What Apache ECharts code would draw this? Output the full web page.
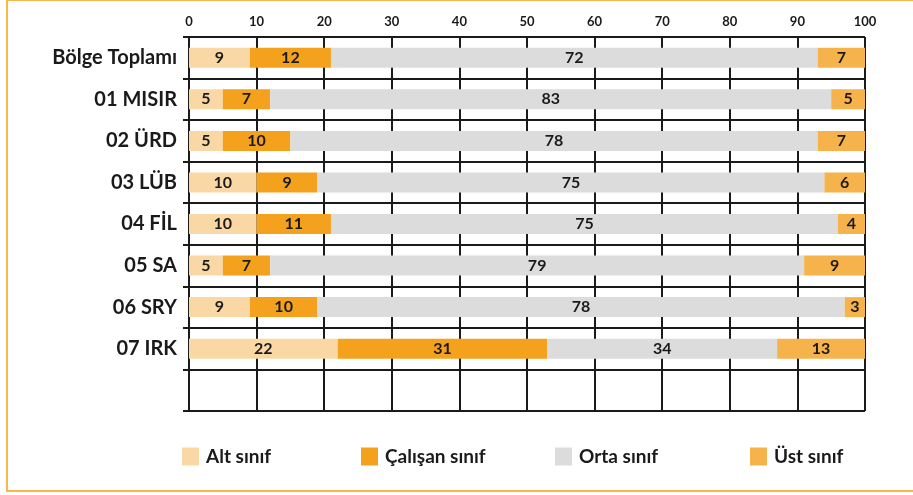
<!DOCTYPE html>
<html>
<head>
<meta charset="utf-8">
<script src="https://cdn.jsdelivr.net/npm/echarts@6/dist/echarts.min.js"></script>
<style>
  html, body { margin: 0; padding: 0; background: #fff; }
  #chart { width: 913px; height: 495px; }
</style>
</head>
<body>
<div id="chart"></div>
<script>
// ülkeler (son satır boş bırakılmış)
const categories = ['Bölge Toplamı', '01 MISIR', '02 ÜRD', '03 LÜB', '04 FİL', '05 SA', '06 SRY', '07 IRK', ''];
const altSinif = [9, 5, 5, 10, 10, 5, 9, 22, null];
const calisanSinif = [12, 7, 10, 9, 11, 7, 10, 31, null];
const ortaSinif = [72, 83, 78, 75, 75, 79, 78, 34, null];
const ustSinif = [7, 5, 7, 6, 4, 9, 3, 13, null];
const xTicks = [0, 10, 20, 30, 40, 50, 60, 70, 80, 90, 100];

const font = 'Lato, "Open Sans", sans-serif';
const ink = '#1a1a1a';

const chart = echarts.init(document.getElementById('chart'));

function bar(name, data, color) {
  return {
    name: name,
    type: 'bar',
    stack: 'total',
    barWidth: 20,
    data: data,
    itemStyle: { color: color },
    label: {
      show: true,
      position: 'inside',
      color: ink,
      fontFamily: font,
      fontWeight: 'bold',
      fontSize: 16
    },
    animation: false
  };
}

const legendLefts = [182, 361, 555, 750];
const names = ['Alt sınıf', 'Çalışan sınıf', 'Orta sınıf', 'Üst sınıf'];

chart.setOption({
  backgroundColor: '#fff',
  grid: { left: 189, right: 48, top: 37, bottom: 84 },
  graphic: [{
    type: 'rect',
    shape: { x: 7, y: 0, width: 1000, height: 491 },
    style: { fill: 'none', stroke: '#f7b84b', lineWidth: 2 },
    silent: true
  }],
  legend: names.map((n, i) => ({
    data: [n],
    left: legendLefts[i],
    top: 447,
    padding: 0,
    icon: 'rect',
    itemWidth: 17,
    itemHeight: 18,
    itemGap: 0,
    selectedMode: false,
    textStyle: { color: ink, fontFamily: font, fontWeight: 'bold', fontSize: 19, padding: [0, 0, 0, 2] }
  })),
  xAxis: {
    type: 'value',
    position: 'top',
    min: 0,
    max: 100,
    interval: 10,
    axisLine: { show: false },
    axisTick: { show: false },
    axisLabel: {
      margin: 9,
      color: ink,
      fontFamily: font,
      fontWeight: 'bold',
      fontSize: 13,
      formatter: v => (xTicks.indexOf(v) >= 0 ? String(v) : '')
    },
    splitLine: { show: true, lineStyle: { color: ink, width: 2 } }
  },
  yAxis: {
    type: 'category',
    inverse: true,
    data: categories,
    axisLine: { show: false },
    axisTick: { show: true, length: 6, lineStyle: { color: ink, width: 2 } },
    axisLabel: {
      margin: 12,
      color: ink,
      fontFamily: font,
      fontWeight: 'bold',
      fontSize: 20
    },
    splitLine: { show: true, lineStyle: { color: ink, width: 2 } }
  },
  series: [
    bar('Alt sınıf', altSinif, '#f9d8a5'),
    bar('Çalışan sınıf', calisanSinif, '#f4a11e'),
    bar('Orta sınıf', ortaSinif, '#dcdcdd'),
    bar('Üst sınıf', ustSinif, '#f6b24b')
  ]
});
</script>
</body>
</html>
